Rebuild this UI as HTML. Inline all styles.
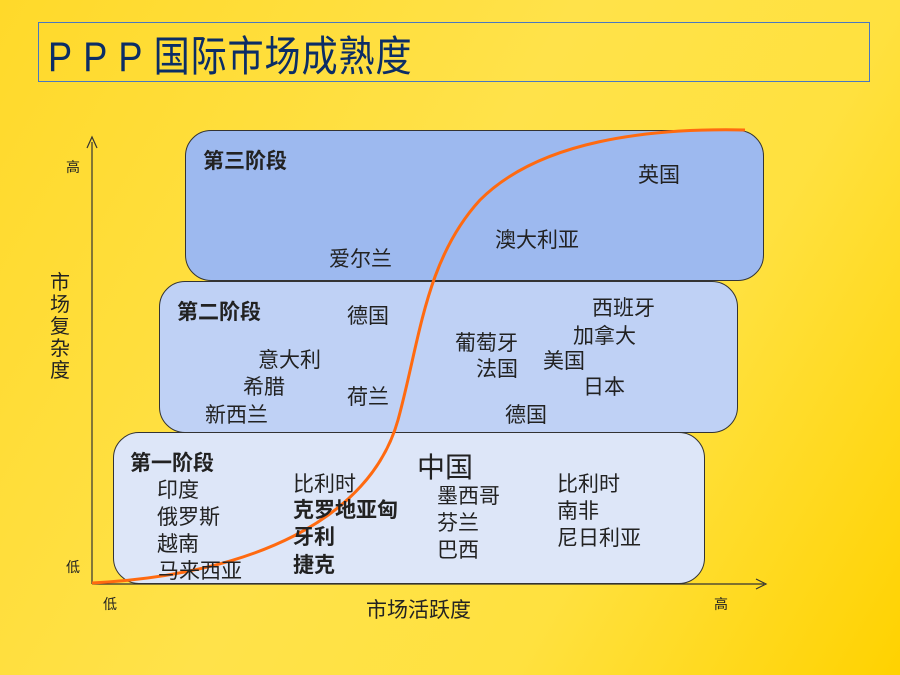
<!DOCTYPE html>
<html><head><meta charset="utf-8"><style>
body{margin:0}
#c{position:relative;width:900px;height:675px;overflow:hidden;background:linear-gradient(120deg,#ffd92a 0%,#ffe24a 45%,#ffe13f 70%,#ffd200 100%);font-family:"Liberation Sans","Noto Sans CJK SC",sans-serif;color:#222}
.t{position:absolute;white-space:nowrap;font-size:21px;line-height:1}
.b{font-weight:bold}
.box{position:absolute;border:1.5px solid #333;border-radius:26px;box-sizing:border-box}
</style></head><body><div id="c">
<div style="position:absolute;left:38px;top:22px;width:832px;height:60px;border:1px solid #4a78c0;box-sizing:border-box"></div>
<div class="t" style="left:48px;top:36px;font-size:42px;color:#0b2d66;letter-spacing:1px;transform:scaleX(0.86);transform-origin:0 0">P P P 国际市场成熟度</div>
<div class="box" style="left:185px;top:130px;width:579px;height:151px;background:#9db9ef"></div>
<div class="box" style="left:159px;top:281px;width:579px;height:152px;background:#bfd1f5"></div>
<div class="box" style="left:113px;top:432px;width:592px;height:152px;background:#dde6f8"></div>
<svg style="position:absolute;left:0;top:0" width="900" height="675">
<line x1="92" y1="584" x2="92" y2="142" stroke="#333" stroke-width="1.2"/>
<path d="M87 148 L92 137 L97 148" fill="none" stroke="#333" stroke-width="1.2"/>
<line x1="92" y1="584" x2="764" y2="584" stroke="#333" stroke-width="1.2"/>
<path d="M756 579 L766 584 L756 589" fill="none" stroke="#333" stroke-width="1.2"/>
<path d="M92 583 C250 575 370 520 398 420 C420 340 425 260 480 200 C540 140 650 128 745 130" fill="none" stroke="#ff6a10" stroke-width="3"/>
</svg>
<div class="t" style="left:66px;top:160px;font-size:14px">高</div>
<div class="t" style="left:66px;top:560px;font-size:14px">低</div>
<div class="t" style="left:103px;top:597px;font-size:14px">低</div>
<div class="t" style="left:714px;top:597px;font-size:14px">高</div>
<div class="t" style="left:50px;top:272px;width:20px;white-space:normal;line-height:22px;font-size:20px">市场复杂度</div>
<div class="t" style="left:366px;top:600px">市场活跃度</div>
<div class="t b" style="left:203px;top:151px">第三阶段</div>
<div class="t" style="left:638px;top:165px">英国</div>
<div class="t" style="left:495px;top:230px">澳大利亚</div>
<div class="t" style="left:329px;top:249px">爱尔兰</div>
<div class="t b" style="left:177px;top:302px">第二阶段</div>
<div class="t" style="left:347px;top:306px">德国</div>
<div class="t" style="left:592px;top:298px">西班牙</div>
<div class="t" style="left:573px;top:326px">加拿大</div>
<div class="t" style="left:455px;top:333px">葡萄牙</div>
<div class="t" style="left:543px;top:351px">美国</div>
<div class="t" style="left:258px;top:350px">意大利</div>
<div class="t" style="left:476px;top:359px">法国</div>
<div class="t" style="left:243px;top:377px">希腊</div>
<div class="t" style="left:583px;top:377px">日本</div>
<div class="t" style="left:347px;top:387px">荷兰</div>
<div class="t" style="left:205px;top:405px">新西兰</div>
<div class="t" style="left:505px;top:405px">德国</div>
<div class="t b" style="left:130px;top:453px">第一阶段</div>
<div class="t" style="left:417px;top:454px;font-size:28px">中国</div>
<div class="t" style="left:157px;top:480px">印度</div>
<div class="t" style="left:293px;top:474px">比利时</div>
<div class="t" style="left:557px;top:474px">比利时</div>
<div class="t" style="left:437px;top:486px">墨西哥</div>
<div class="t b" style="left:293px;top:500px">克罗地亚匈</div>
<div class="t" style="left:557px;top:501px">南非</div>
<div class="t" style="left:157px;top:507px">俄罗斯</div>
<div class="t" style="left:437px;top:513px">芬兰</div>
<div class="t b" style="left:293px;top:527px">牙利</div>
<div class="t" style="left:557px;top:528px">尼日利亚</div>
<div class="t" style="left:157px;top:534px">越南</div>
<div class="t" style="left:437px;top:540px">巴西</div>
<div class="t b" style="left:293px;top:555px">捷克</div>
<div class="t" style="left:158px;top:561px">马来西亚</div>
</div></body></html>
